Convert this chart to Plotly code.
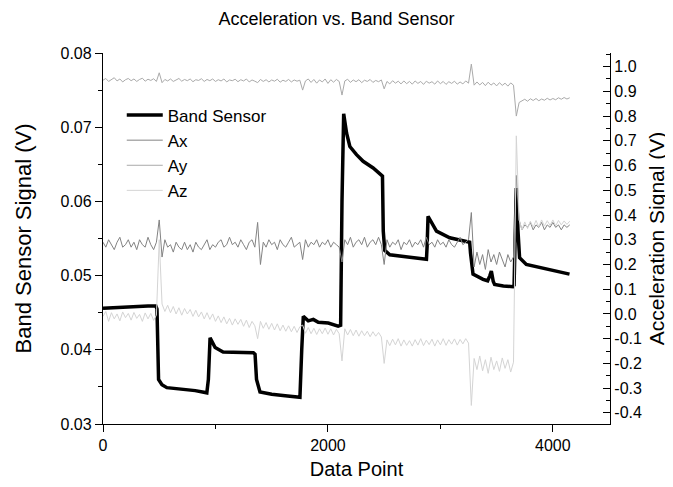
import plotly.graph_objects as go

# ---------------- data ----------------
band_x = [0, 100, 200, 300, 400, 470, 480, 494, 524, 568,
          713, 820, 923, 937, 952, 997, 1068, 1200, 1337, 1352,
          1365, 1396, 1500, 1620, 1751, 1767, 1781, 1825, 1870, 1914,
          1960, 2003, 2091, 2113, 2125, 2140, 2166, 2195, 2254, 2313,
          2402, 2476, 2485, 2492, 2505, 2550, 2700, 2876, 2882, 2890,
          2965, 3083, 3231, 3260, 3268, 3290, 3379, 3420, 3440, 3453,
          3470, 3482, 3560, 3645, 3655, 3665, 3675, 3690, 3704, 3764,
          3900, 4030, 4148]
band_y = [0.0456, 0.0457, 0.0458, 0.0459, 0.0459, 0.0459, 0.0455, 0.0360, 0.0353, 0.0349,
          0.0347, 0.0345, 0.0342, 0.0360, 0.0416, 0.0403, 0.0397, 0.0397, 0.0396, 0.0394,
          0.0360, 0.0343, 0.0340, 0.0338, 0.0336, 0.0400, 0.0445, 0.0439, 0.0441, 0.0437,
          0.0437, 0.0436, 0.0432, 0.0433, 0.0600, 0.0718, 0.0692, 0.0674, 0.0663, 0.0654,
          0.0645, 0.0636, 0.0634, 0.0560, 0.0534, 0.0528, 0.0525, 0.0522, 0.0540, 0.0580,
          0.0560, 0.0551, 0.0546, 0.0545, 0.0530, 0.0502, 0.0495, 0.0493, 0.0500, 0.0506,
          0.0492, 0.0488, 0.0486, 0.0485, 0.0487, 0.0560, 0.0618, 0.0560, 0.0524, 0.0515,
          0.0510, 0.0506, 0.0502]

# accelerometer samples, one value every 25 data points (0 ... 4150)
acc_x = list(range(0, 4151, 25))

ax_y = [0.29, 0.27, 0.30, 0.28, 0.26, 0.29, 0.31, 0.27, 0.28, 0.30,   # 0
        0.27, 0.29, 0.26, 0.30, 0.28, 0.27, 0.31, 0.28, 0.26, 0.29,   # 250
        0.38, 0.23, 0.30, 0.27, 0.28, 0.25, 0.29, 0.27, 0.26, 0.29,   # 500
        0.26, 0.28, 0.25, 0.29, 0.27, 0.26, 0.28, 0.30, 0.26, 0.28,   # 750
        0.27, 0.29, 0.30, 0.27, 0.28, 0.31, 0.28, 0.29, 0.27, 0.30,   # 1000
        0.28, 0.26, 0.29, 0.30, 0.27, 0.37, 0.20, 0.29, 0.27, 0.30,   # 1250
        0.28, 0.29, 0.26, 0.30, 0.28, 0.27, 0.29, 0.31, 0.27, 0.28,   # 1500
        0.29, 0.22, 0.30, 0.27, 0.29, 0.28, 0.30, 0.27, 0.29, 0.28,   # 1750
        0.30, 0.27, 0.29, 0.28, 0.27, 0.21, 0.30, 0.28, 0.31, 0.27,   # 2000
        0.29, 0.30, 0.28, 0.31, 0.27, 0.29, 0.30, 0.28, 0.31, 0.28,   # 2250
        0.20, 0.30, 0.27, 0.29, 0.28, 0.30, 0.26, 0.29, 0.28, 0.30,   # 2500
        0.27, 0.29, 0.28, 0.30, 0.27, 0.31, 0.28, 0.29, 0.27, 0.30,   # 2750
        0.28, 0.29, 0.27, 0.30, 0.28, 0.27, 0.29, 0.31, 0.28, 0.29,   # 3000
        0.30, 0.41, 0.19, 0.25, 0.20, 0.24, 0.18, 0.26, 0.21, 0.24,   # 3250
        0.20, 0.25, 0.22, 0.19, 0.24, 0.21, 0.23, 0.56, 0.38, 0.34,   # 3500
        0.36, 0.35, 0.37, 0.34, 0.36, 0.35, 0.37, 0.34, 0.36, 0.35,   # 3750
        0.37, 0.35, 0.36, 0.34, 0.36, 0.35, 0.36]                     # 4000

ay_y = [0.945, 0.952, 0.940, 0.948, 0.955, 0.942, 0.950, 0.938, 0.947, 0.952,   # 0
        0.943, 0.950, 0.940, 0.948, 0.953, 0.941, 0.949, 0.944, 0.951, 0.940,   # 250
        0.975, 0.935, 0.948, 0.942, 0.950, 0.940, 0.947, 0.952, 0.941, 0.948,   # 500
        0.943, 0.950, 0.939, 0.947, 0.944, 0.951, 0.940, 0.948, 0.943, 0.950,   # 750
        0.940, 0.947, 0.942, 0.950, 0.938, 0.946, 0.943, 0.949, 0.939, 0.947,   # 1000
        0.942, 0.950, 0.938, 0.946, 0.941, 0.935, 0.948, 0.940, 0.947, 0.938,   # 1250
        0.946, 0.941, 0.949, 0.937, 0.945, 0.940, 0.948, 0.938, 0.946, 0.941,   # 1500
        0.945, 0.905, 0.942, 0.950, 0.936, 0.948, 0.933, 0.946, 0.938, 0.950,   # 1750
        0.932, 0.947, 0.937, 0.948, 0.940, 0.885, 0.942, 0.949, 0.936, 0.946,   # 2000
        0.939, 0.947, 0.935, 0.945, 0.940, 0.948, 0.936, 0.944, 0.939, 0.946,   # 2250
        0.910, 0.940, 0.930, 0.943, 0.933, 0.941, 0.930, 0.942, 0.931, 0.940,   # 2500
        0.929, 0.942, 0.932, 0.940, 0.928, 0.941, 0.933, 0.939, 0.929, 0.942,   # 2750
        0.931, 0.940, 0.928, 0.939, 0.932, 0.941, 0.929, 0.938, 0.930, 0.942,   # 3000
        0.933, 1.010, 0.925, 0.938, 0.926, 0.936, 0.923, 0.937, 0.925, 0.934,   # 3250
        0.922, 0.935, 0.924, 0.933, 0.921, 0.934, 0.925, 0.800, 0.855, 0.862,   # 3500
        0.868, 0.860, 0.870, 0.863, 0.871, 0.862, 0.869, 0.864, 0.872, 0.865,   # 3750
        0.871, 0.866, 0.874, 0.868, 0.875, 0.869, 0.874]                        # 4000

az_y = [-0.010, 0.010, -0.030, 0.005, -0.020, 0.000, -0.028, 0.008, -0.015, 0.002,      # 0
        -0.025, 0.006, -0.018, -0.002, -0.030, 0.004, -0.020, 0.002, -0.026, -0.005,    # 250
        0.300, 0.040, 0.010, 0.035, 0.005, 0.030, 0.000, 0.025, -0.005, 0.022,          # 500
        0.000, 0.018, -0.010, 0.015, -0.012, 0.008, -0.020, 0.005, -0.022, 0.000,       # 750
        -0.030, -0.008, -0.035, -0.012, -0.040, -0.018, -0.045, -0.020, -0.042, -0.022, # 1000
        -0.050, -0.025, -0.055, -0.030, -0.048, -0.100, -0.030, -0.058, -0.035, -0.062, # 1250
        -0.038, -0.065, -0.040, -0.068, -0.045, -0.070, -0.048, -0.072, -0.050, -0.075, # 1500
        -0.052, -0.045, -0.078, -0.055, -0.080, -0.058, -0.083, -0.060, -0.080, -0.057, # 1750
        -0.082, -0.060, -0.085, -0.062, -0.080, -0.190, -0.060, -0.085, -0.063, -0.088, # 2000
        -0.065, -0.090, -0.068, -0.088, -0.070, -0.092, -0.072, -0.090, -0.075, -0.093, # 2250
        -0.200, -0.105, -0.128, -0.102, -0.125, -0.100, -0.130, -0.105, -0.127, -0.108, # 2500
        -0.130, -0.104, -0.126, -0.100, -0.128, -0.106, -0.124, -0.102, -0.130, -0.105, # 2750
        -0.125, -0.100, -0.127, -0.104, -0.122, -0.101, -0.126, -0.103, -0.121, -0.100, # 3000
        -0.118, -0.370, -0.180, -0.225, -0.170, -0.230, -0.185, -0.240, -0.175, -0.225, # 3250
        -0.190, -0.232, -0.178, -0.220, -0.185, -0.235, -0.195, 0.720, 0.380, 0.340,    # 3500
        0.372, 0.345, 0.375, 0.350, 0.378, 0.352, 0.380, 0.355, 0.377, 0.358,           # 3750
        0.380, 0.356, 0.378, 0.360, 0.376, 0.362, 0.375]                                # 4000

left_ticks = [0.03, 0.04, 0.05, 0.06, 0.07, 0.08]
right_ticks = [-0.4, -0.3, -0.2, -0.1, 0.0, 0.1, 0.2, 0.3, 0.4, 0.5, 0.6, 0.7, 0.8, 0.9, 1.0]
x_ticks = [0, 2000, 4000]

FONT = "Liberation Sans, Arial, sans-serif"

fig = go.Figure()
fig.add_trace(go.Scatter(x=acc_x, y=ax_y, mode="lines", name="Ax", yaxis="y2",
                         line=dict(color="#838383", width=1), legendrank=2, legendgroup="g2"))
fig.add_trace(go.Scatter(x=acc_x, y=ay_y, mode="lines", name="Ay", yaxis="y2",
                         line=dict(color="#aaaaaa", width=1), legendrank=3, legendgroup="g3"))
fig.add_trace(go.Scatter(x=acc_x, y=az_y, mode="lines", name="Az", yaxis="y2",
                         line=dict(color="#d4d4d4", width=1), legendrank=4, legendgroup="g4"))
fig.add_trace(go.Scatter(x=band_x, y=band_y, mode="lines", name="Band Sensor", yaxis="y",
                         line=dict(color="black", width=3.5), legendrank=1, legendgroup="g1"))

# the page body adds an 8 px offset, so the figure is 8 px smaller than the window
fig.update_layout(
    width=665, height=479,
    margin=dict(l=95, r=63, t=45, b=63),
    paper_bgcolor="white", plot_bgcolor="white",
    font=dict(family=FONT, color="black", size=16),
    title=dict(text="Acceleration vs. Band Sensor", x=0.494, xref="container",
               y=1 - 11 / 479, yref="container", yanchor="middle",
               font=dict(size=18, family=FONT)),
    showlegend=True,
    legend=dict(x=0.037, y=0.88, xanchor="left", yanchor="top",
                bgcolor="rgba(0,0,0,0)", borderwidth=0,
                font=dict(size=17, family=FONT), itemwidth=36,
                traceorder="grouped", tracegroupgap=0),
    xaxis=dict(range=[0, 4508], tickvals=x_ticks, ticktext=[str(v) for v in x_ticks],
               ticks="outside", ticklen=7, tickwidth=1, tickcolor="black",
               minor=dict(dtick=1000, tick0=0, ticks="outside", ticklen=4, tickcolor="black"),
               showline=True, linecolor="black", linewidth=1.3, showgrid=False, zeroline=False,
               automargin=False,
               title=dict(text="Data Point", font=dict(size=20), standoff=8),
               tickfont=dict(size=16)),
    yaxis=dict(range=[0.03, 0.08], tickvals=left_ticks,
               ticktext=[f"{v:.2f}" for v in left_ticks],
               ticks="outside", ticklen=7, tickwidth=1, tickcolor="black",
               minor=dict(dtick=0.005, tick0=0.03, ticks="outside", ticklen=4, tickcolor="black"),
               showline=True, linecolor="black", linewidth=1.3, showgrid=False, zeroline=False,
               automargin=False,
               title=dict(text="Band Sensor Signal (V)", font=dict(size=22), standoff=22),
               tickfont=dict(size=16)),
    yaxis2=dict(range=[-0.445, 1.055], overlaying="y", side="right",
                tickvals=right_ticks, ticktext=[f"{v:.1f}" for v in right_ticks],
                ticks="inside", ticklen=7, tickwidth=1, tickcolor="black",
                minor=dict(dtick=0.05, tick0=0, ticks="inside", ticklen=4, tickcolor="black"),
                showline=True, linecolor="black", linewidth=1.3, showgrid=False, zeroline=False,
                automargin=False,
                title=dict(text="Acceleration Signal (V)", font=dict(size=21), standoff=8),
                tickfont=dict(size=16)),
)

fig.write_html("out.html")
